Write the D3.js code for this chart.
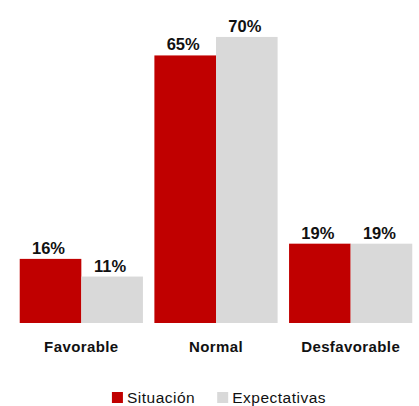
<!DOCTYPE html>
<html>
<head>
<meta charset="utf-8">
<script src="https://cdn.jsdelivr.net/npm/d3@7"></script>
<style>
  body { margin: 0; background: #fff; }
  svg { display: block; font-family: "Liberation Sans", Arial, sans-serif; }
</style>
</head>
<body>
<div id="chart"></div>
<script>
// data (percent)
var categories = ["Favorable", "Normal", "Desfavorable"];
var seriesNames = ["Situación", "Expectativas"];
var situacion = [15.6, 65.1, 19.3];
var expectativas = [11.3, 69.6, 19.3];

var colors = ["#C00000", "#D9D9D9"];
var width = 419, height = 406;
var baseY = 323;

var svg = d3.select("#chart").append("svg")
    .attr("width", width).attr("height", height);

var x0 = d3.scaleBand().domain(categories)
    .range([14, 418]).paddingInner(0.085).paddingOuter(0.0425);
var x1 = d3.scaleBand().domain(seriesNames).range([0, x0.bandwidth()]);
var y = d3.scaleLinear().domain([0, 100]).range([baseY, baseY - 411]);

var rows = categories.map(function(c, i){
    return {cat: c, vals: [situacion[i], expectativas[i]]};
});

var groups = svg.selectAll("g.group").data(rows).enter().append("g")
    .attr("class", "group")
    .attr("transform", function(d){ return "translate(" + x0(d.cat) + ",0)"; });

var bars = groups.selectAll("g.bar").data(function(d){
        return d.vals.map(function(v, j){ return {name: seriesNames[j], v: v, j: j}; });
    }).enter().append("g").attr("class", "bar");

bars.append("rect")
    .attr("x", function(d){ return x1(d.name); })
    .attr("y", function(d){ return y(d.v); })
    .attr("width", x1.bandwidth())
    .attr("height", function(d){ return baseY - y(d.v); })
    .style("fill", function(d){ return colors[d.j]; });

bars.append("text")
    .attr("x", function(d){ return x1(d.name) + x1.bandwidth() / 2 - 2; })
    .attr("y", function(d){ return y(d.v) - 5; })
    .attr("text-anchor", "middle")
    .style("font-size", "16.5px").style("font-weight", "bold").style("fill", "#111")
    .text(function(d){ return d3.format(".0f")(d.v) + "%"; });

// category labels
svg.selectAll("text.cat").data(categories).enter().append("text")
    .attr("class", "cat")
    .attr("x", function(d){ return x0(d) + x0.bandwidth() / 2; })
    .attr("y", 352)
    .attr("text-anchor", "middle")
    .style("font-size", "15px").style("font-weight", "bold").style("fill", "#111")
    .style("letter-spacing", "0.4px")
    .text(function(d){ return d; });

// legend
var legend = svg.append("g").attr("class", "legend");
var lx = 0;
seriesNames.forEach(function(n, i){
    var item = legend.append("g").attr("transform", "translate(" + lx + ",0)");
    item.append("rect").attr("x", 0).attr("y", 392).attr("width", 11).attr("height", 11)
        .style("fill", colors[i]);
    var t = item.append("text").attr("x", 15).attr("y", 403)
        .style("font-size", "15.5px").style("fill", "#111").style("letter-spacing", "0.5px")
        .text(n);
    lx += 15 + t.node().getComputedTextLength() + 22;
});
var lw = lx - 22;
legend.attr("transform", "translate(" + (219 - lw / 2) + ",0)");
</script>
</body>
</html>
